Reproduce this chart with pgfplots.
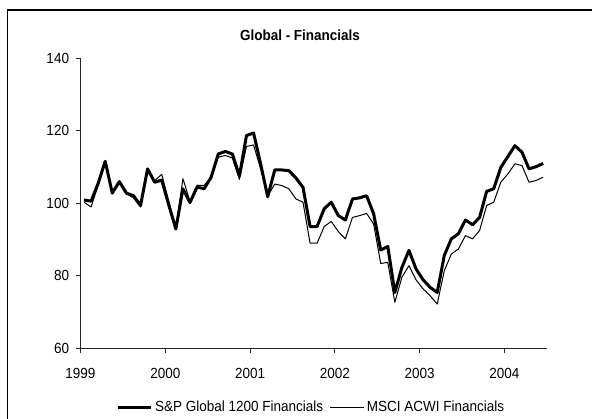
\documentclass[border=0pt]{standalone}
\usepackage{pgfplots}
\pgfplotsset{compat=1.18}
\usepackage{pgfplotstable}
\usepackage{fontspec}
\setmainfont{Liberation Sans}[FakeStretch=0.92]

\pgfplotstableread{
x sp msci
0.5 100.9 100.3
1.5 100.6 99.0
2.5 105.5 105.0
3.5 111.6 111.2
4.5 102.8 103.3
5.5 106.0 105.5
6.5 102.8 102.6
7.5 102.1 101.5
8.5 99.4 99.0
9.5 109.5 109.0
10.5 105.8 106.2
11.5 106.4 108.0
12.5 99.5 100.5
13.5 92.9 93.2
14.5 104.0 106.8
15.5 100.2 100.5
16.5 104.5 105.0
17.5 104.0 104.9
18.5 107.2 107.3
19.5 113.6 112.7
20.5 114.3 113.2
21.5 113.6 112.5
22.5 107.6 106.6
23.5 118.7 115.7
24.5 119.4 116.1
25.5 110.9 109.5
26.5 101.8 102.0
27.5 109.2 105.3
28.5 109.2 104.9
29.5 109.0 104.0
30.5 107.0 101.2
31.5 104.4 100.3
32.5 93.6 89.0
33.5 93.6 89.0
34.5 98.5 93.6
35.5 100.3 95.0
36.5 96.6 92.2
37.5 95.4 90.2
38.5 101.2 96.1
39.5 101.5 96.6
40.5 102.1 97.2
41.5 97.1 94.3
42.5 87.1 83.4
43.5 88.1 83.7
44.5 75.4 72.7
45.5 82.3 79.6
46.5 87.0 82.8
47.5 81.9 78.9
48.5 78.9 76.4
49.5 76.8 74.5
50.5 75.4 72.2
51.5 85.6 81.4
52.5 90.2 86.0
53.5 91.6 87.4
54.5 95.4 91.1
55.5 94.1 90.2
56.5 96.1 92.5
57.5 103.3 99.4
58.5 104.0 100.3
59.5 109.9 105.8
60.5 112.9 108.1
61.5 115.9 110.9
62.5 114.1 110.4
63.5 109.5 105.8
64.5 110.1 106.3
65.5 111.0 107.2
}\data

\begin{document}
\fontsize{11}{13}\selectfont
\begin{tikzpicture}
\useasboundingbox (0,0) rectangle (444pt,313.5pt);
\draw[line width=0.9pt] (5.625pt,-2pt) -- (5.625pt,306pt) -- (446pt,306pt);
\node[font=\fontsize{11}{13}\selectfont\bfseries, anchor=base] at (225pt,283pt) {Global - Financials};
\begin{axis}[
  at={(60.375pt,52.275pt)}, anchor=south west,
  width=349.65pt, height=217.5pt, scale only axis,
  xmin=0, xmax=66, ymin=60, ymax=140,
  ytick={60,80,...,140},
  xtick={0,12,...,60},
  xticklabels={1999,2000,2001,2002,2003,2004},
  axis x line*=bottom, axis y line*=left,
  axis line style={-, line width=0.6pt, black!85},
  tick align=outside, major tick length=3.75pt,
  tick style={line width=0.6pt, black!85},
  ticklabel style={font=\fontsize{11}{13}\selectfont},
  xticklabel style={yshift=-7.5pt},
  yticklabel style={xshift=-1pt},
  /pgf/number format/assume math mode=true,
  legend columns=2,
  legend style={at={(0.4955,-0.203)}, anchor=center, draw=none, fill=none,
    font=\fontsize{11}{13}\selectfont, inner sep=0pt,
    /tikz/every even column/.append style={column sep=3pt}},
  legend image code/.code={\draw[#1] (0pt,0pt) -- (25pt,0pt);},
]
\addplot[black, line width=2.25pt, line join=round] table[x=x, y=sp] {\data};
\addlegendentry{S\&P Global 1200 Financials}
\addplot[black, line width=0.75pt, line join=round] table[x=x, y=msci] {\data};
\addlegendentry{MSCI ACWI Financials}
\end{axis}
\end{tikzpicture}
\end{document}
